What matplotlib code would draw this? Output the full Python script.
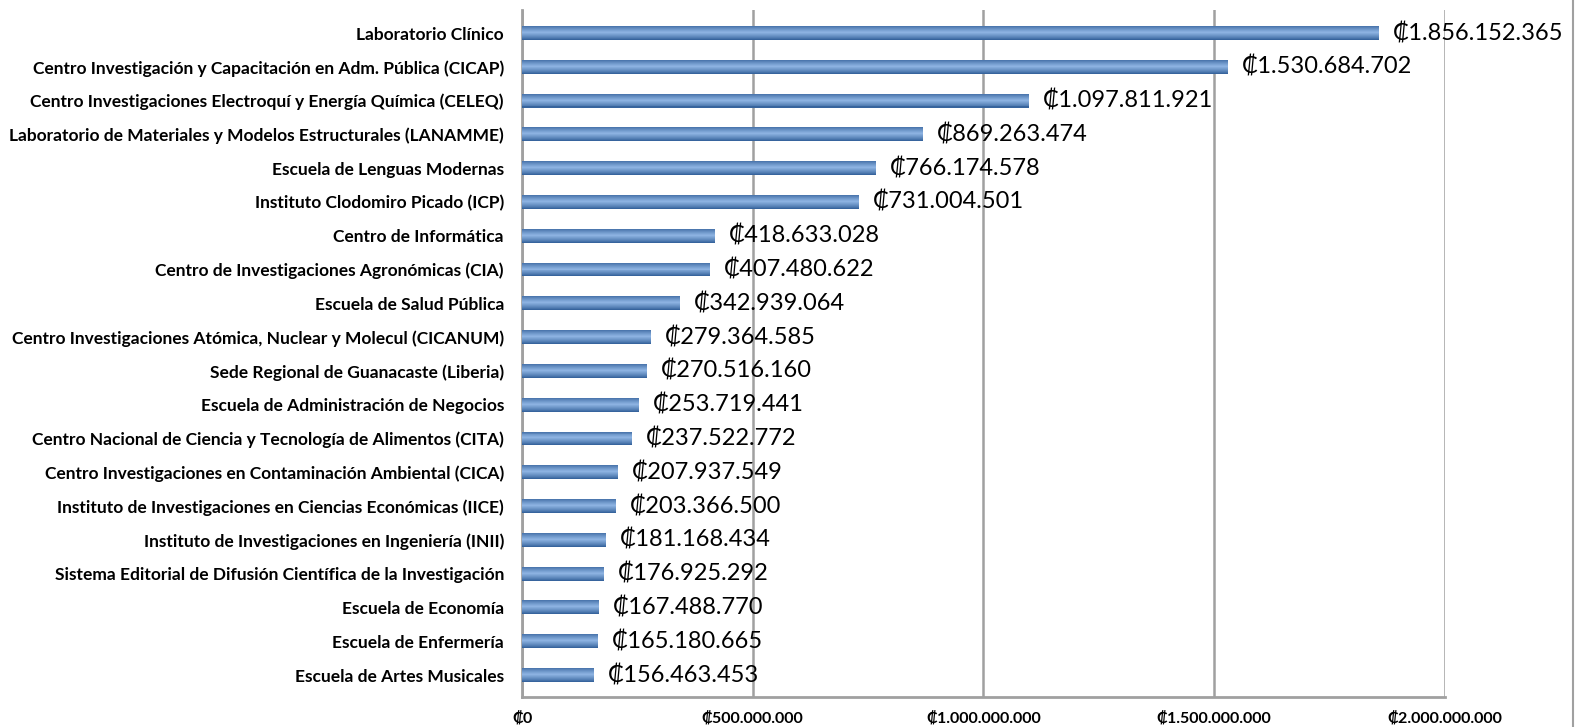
import numpy as np
import matplotlib
matplotlib.use("Agg")
import matplotlib.pyplot as plt
from matplotlib.lines import Line2D

categories = [
    "Laboratorio Clínico",
    "Centro Investigación y Capacitación en Adm. Pública (CICAP)",
    "Centro Investigaciones Electroquí y Energía Química (CELEQ)",
    "Laboratorio de Materiales y Modelos Estructurales (LANAMME)",
    "Escuela de Lenguas Modernas",
    "Instituto Clodomiro Picado (ICP)",
    "Centro de Informática",
    "Centro de Investigaciones Agronómicas (CIA)",
    "Escuela de Salud Pública",
    "Centro Investigaciones Atómica, Nuclear y Molecul (CICANUM)",
    "Sede Regional de Guanacaste (Liberia)",
    "Escuela de Administración de Negocios",
    "Centro Nacional de Ciencia y Tecnología de Alimentos (CITA)",
    "Centro Investigaciones en Contaminación Ambiental (CICA)",
    "Instituto de Investigaciones en Ciencias Económicas (IICE)",
    "Instituto de Investigaciones en Ingeniería (INII)",
    "Sistema Editorial de Difusión Científica de la Investigación",
    "Escuela de Economía",
    "Escuela de Enfermería",
    "Escuela de Artes Musicales",
]
values = [
    1856152365, 1530684702, 1097811921, 869263474, 766174578,
    731004501, 418633028, 407480622, 342939064, 279364585,
    270516160, 253719441, 237522772, 207937549, 203366500,
    181168434, 176925292, 167488770, 165180665, 156463453,
]
xticks = [0, 500000000, 1000000000, 1500000000, 2000000000]


def colon(v):
    return "\u20a1" + f"{v:,}".replace(",", ".")


fams = ["Lato", "DejaVu Sans"]

fig = plt.figure(figsize=(15.79, 7.27), dpi=100)
ax = fig.add_axes([0.3306, 0.0413, 0.5845, 0.9449])

y = np.arange(len(categories))
bar_h = 0.41

# bars with a simple vertical gradient (dark edges, light middle)
dark = np.array([0x2c, 0x5a, 0x94]) / 255
light = np.array([0x8e, 0xb4, 0xe3]) / 255
nb = 14
for k in range(nb):
    t = (k + 0.5) / nb
    w = 1 - abs(t - 0.45) / 0.55
    w = max(0, min(1, w)) ** 0.8
    c = dark * (1 - w) + light * w
    off = -bar_h / 2 + (k + 0.5) * bar_h / nb
    ax.barh(y + off, values, height=bar_h / nb + 0.002, color=c, linewidth=0, zorder=3)

for yi, v in zip(y, values):
    ax.text(v + 30000000, yi, colon(v), va="center", ha="left",
            fontsize=17, family=fams, zorder=4)

ax.set_ylim(19.65, -0.68)
ax.set_xlim(0, 2000000000)
ax.set_yticks(y)
ax.set_yticklabels(categories, fontsize=12.5, fontweight="bold", family=fams)
ax.set_xticks(xticks)
ax.set_xticklabels([colon(v) for v in xticks], fontsize=11.5, fontweight="bold", family=fams)
ax.tick_params(axis="y", length=0, pad=13)
ax.tick_params(axis="x", length=0, pad=10)

ax.grid(axis="x", color="#a0a0a0", linewidth=1.8, zorder=0)
for s in ["top", "right"]:
    ax.spines[s].set_visible(False)
for s in ["left", "bottom"]:
    ax.spines[s].set_color("#a0a0a0")
    ax.spines[s].set_linewidth(2)

fig.add_artist(Line2D([0.9965, 0.9965], [0, 1], color="#a0a0a0", linewidth=1.5))

fig.savefig("out.png", dpi=100)
